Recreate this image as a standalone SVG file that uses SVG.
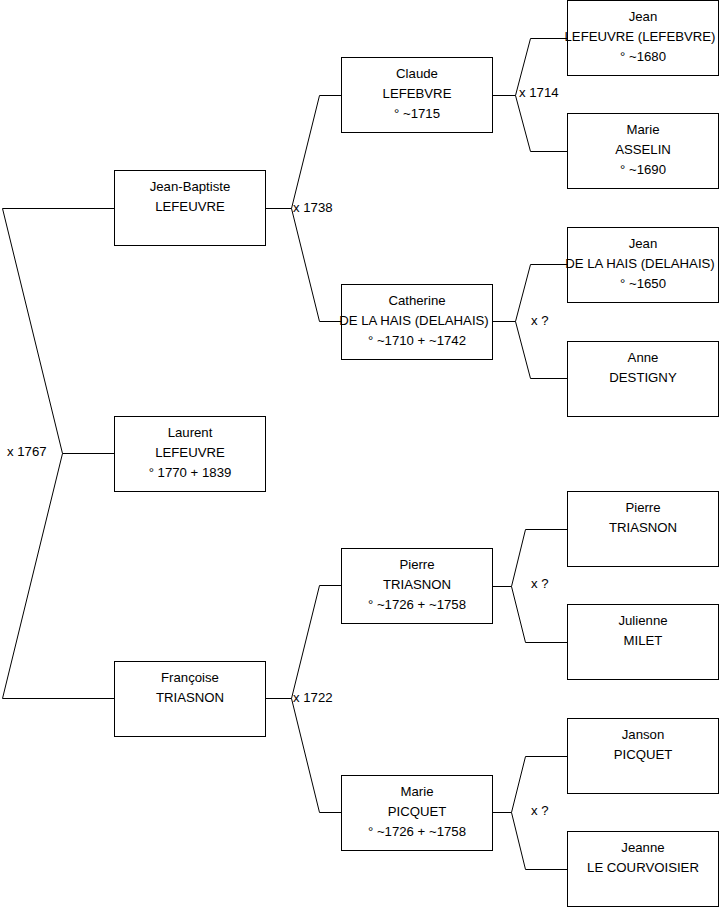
<svg xmlns="http://www.w3.org/2000/svg" width="719" height="908" viewBox="0 0 719 908">
<style>
rect.box{fill:#fff;stroke:#000;stroke-width:1}
.c path{fill:none;stroke:#000;stroke-width:1}
text{font-family:"Liberation Sans",Arial,sans-serif;font-size:13.2px;fill:#000}
.n text{text-anchor:middle}
</style>
<rect width="719" height="908" fill="#fff"/>
<g class="c" id="connectors">
<path d="M114,453.5H62.5L2.5,208.5H114M62.5,453.5L2.5,698.5H114"/>
<path d="M265,208.5H291.5L319.5,95.5H341M291.5,208.5L319.5,321.5H341"/>
<path d="M265,698.5H291.5L319.5,585.5H341M291.5,698.5L319.5,812.5H341"/>
<path d="M492,95.5H515.5L530.5,38.5H567M515.5,95.5L530.5,151.5H567"/>
<path d="M492,321.5H515.5L530.5,264.5H567M515.5,321.5L530.5,378.5H567"/>
<path d="M492,586.5H511.5L525.5,529.5H567M511.5,586.5L525.5,642.5H567"/>
<path d="M492,812.5H511.5L525.5,756.5H567M511.5,812.5L525.5,869.5H567"/>
<text x="7" y="456">x 1767</text>
<text x="293" y="212">x 1738</text>
<text x="293" y="702">x 1722</text>
<text x="519" y="97">x 1714</text>
<text x="531" y="325">x ?</text>
<text x="531" y="588">x ?</text>
<text x="531" y="815">x ?</text>
</g>
<g class="n" id="laurent"><rect class="box" x="114.5" y="416.5" width="151" height="75"/><text x="190" y="437">Laurent</text><text x="190" y="457">LEFEUVRE</text><text x="190" y="477">° 1770 + 1839</text></g>
<g class="n" id="jean-baptiste"><rect class="box" x="114.5" y="170.5" width="151" height="75"/><text x="190" y="191">Jean-Baptiste</text><text x="190" y="211">LEFEUVRE</text></g>
<g class="n" id="francoise"><rect class="box" x="114.5" y="661.5" width="151" height="75"/><text x="190" y="682">Françoise</text><text x="190" y="702">TRIASNON</text></g>
<g class="n" id="claude"><rect class="box" x="341.5" y="57.5" width="151" height="75"/><text x="417" y="78">Claude</text><text x="417" y="98">LEFEBVRE</text><text x="417" y="118">° ~1715</text></g>
<g class="n" id="catherine"><rect class="box" x="341.5" y="284.5" width="151" height="75"/><text x="417" y="305">Catherine</text><text x="414" y="325">DE LA HAIS (DELAHAIS)</text><text x="417" y="345">° ~1710 + ~1742</text></g>
<g class="n" id="pierre1"><rect class="box" x="341.5" y="548.5" width="151" height="75"/><text x="417" y="569">Pierre</text><text x="417" y="589">TRIASNON</text><text x="417" y="609">° ~1726 + ~1758</text></g>
<g class="n" id="marie-picquet"><rect class="box" x="341.5" y="775.5" width="151" height="75"/><text x="417" y="796">Marie</text><text x="417" y="816">PICQUET</text><text x="417" y="836">° ~1726 + ~1758</text></g>
<g class="n" id="jean-lefeuvre"><rect class="box" x="567.5" y="0.5" width="151" height="75"/><text x="643" y="21">Jean</text><text x="640" y="41">LEFEUVRE (LEFEBVRE)</text><text x="643" y="61">° ~1680</text></g>
<g class="n" id="marie-asselin"><rect class="box" x="567.5" y="113.5" width="151" height="75"/><text x="643" y="134">Marie</text><text x="643" y="154">ASSELIN</text><text x="643" y="174">° ~1690</text></g>
<g class="n" id="jean-delahais"><rect class="box" x="567.5" y="227.5" width="151" height="75"/><text x="643" y="248">Jean</text><text x="640" y="268">DE LA HAIS (DELAHAIS)</text><text x="643" y="288">° ~1650</text></g>
<g class="n" id="anne"><rect class="box" x="567.5" y="341.5" width="151" height="75"/><text x="643" y="362">Anne</text><text x="643" y="382">DESTIGNY</text></g>
<g class="n" id="pierre2"><rect class="box" x="567.5" y="491.5" width="151" height="75"/><text x="643" y="512">Pierre</text><text x="643" y="532">TRIASNON</text></g>
<g class="n" id="julienne"><rect class="box" x="567.5" y="604.5" width="151" height="75"/><text x="643" y="625">Julienne</text><text x="643" y="645">MILET</text></g>
<g class="n" id="janson"><rect class="box" x="567.5" y="718.5" width="151" height="75"/><text x="643" y="739">Janson</text><text x="643" y="759">PICQUET</text></g>
<g class="n" id="jeanne"><rect class="box" x="567.5" y="831.5" width="151" height="75"/><text x="643" y="852">Jeanne</text><text x="643" y="872">LE COURVOISIER</text></g>
</svg>
